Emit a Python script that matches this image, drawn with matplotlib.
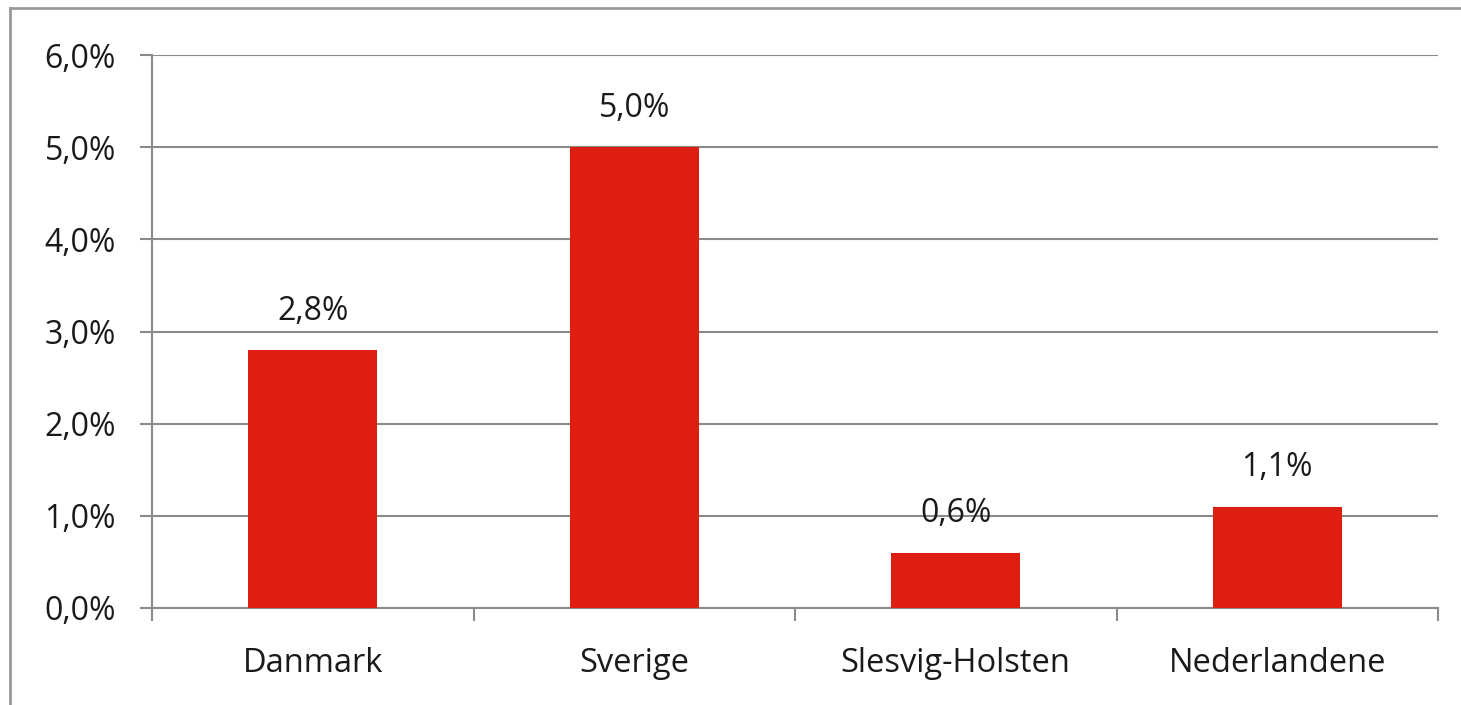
import matplotlib.pyplot as plt
from matplotlib.ticker import FuncFormatter, FixedLocator
from matplotlib.lines import Line2D

lande = ["Danmark", "Sverige", "Slesvig-Holsten", "Nederlandene"]
andel = [2.8, 5.0, 0.6, 1.1]  # procent
y_ticks = [0, 1, 2, 3, 4, 5, 6]

plt.rcParams['font.family'] = ['Open Sans', 'DejaVu Sans']

def pct(v, pos=None):
    return f"{v:.1f}%".replace(".", ",")

fig = plt.figure(figsize=(14.61, 7.05), dpi=100)
ax = fig.add_axes([152/1461, 1 - 608/705, (1438 - 152)/1461, (608 - 55)/705])

grey = "#8a8a8a"
txt = "#1a1a1a"
x = range(len(lande))
bars = ax.bar(x, andel, width=0.40, color="#dd1e10", zorder=3)

for b, v in zip(bars, andel):
    ax.annotate(pct(v), (b.get_x() + b.get_width()/2, v), xytext=(0, 16),
                textcoords="offset points", ha="center", va="bottom", fontsize=23, color=txt)

ax.set_xlim(-0.5, len(lande) - 0.5)
ax.set_ylim(0, 6)
ax.yaxis.set_major_locator(FixedLocator(y_ticks))
ax.yaxis.set_major_formatter(FuncFormatter(pct))
ax.grid(axis="y", color=grey, linewidth=1.5, zorder=0)

# category ticks at the boundaries, labels in the middle
ax.set_xticks([i - 0.5 for i in range(len(lande) + 1)])
ax.set_xticklabels([])
ax.set_xticks(list(x), minor=True)
ax.set_xticklabels(lande, minor=True, fontsize=23.5, color=txt)
ax.tick_params(axis="x", which="major", length=9, width=1.5, color=grey)
ax.tick_params(axis="x", which="minor", length=0, pad=28)
ax.tick_params(axis="y", length=9, width=1.5, color=grey, labelsize=23, labelcolor=txt, pad=17)

for s in ["top", "right"]:
    ax.spines[s].set_visible(False)
for s in ["left", "bottom"]:
    ax.spines[s].set_color(grey)
    ax.spines[s].set_linewidth(1.5)

# outer frame of the chart area
fig.add_artist(Line2D([10/1461, 1], [1 - 8/705, 1 - 8/705], color="#999999", linewidth=2, transform=fig.transFigure))
fig.add_artist(Line2D([10/1461, 10/1461], [0, 1 - 8/705], color="#999999", linewidth=2, transform=fig.transFigure))

fig.savefig("out.png", dpi=100)
